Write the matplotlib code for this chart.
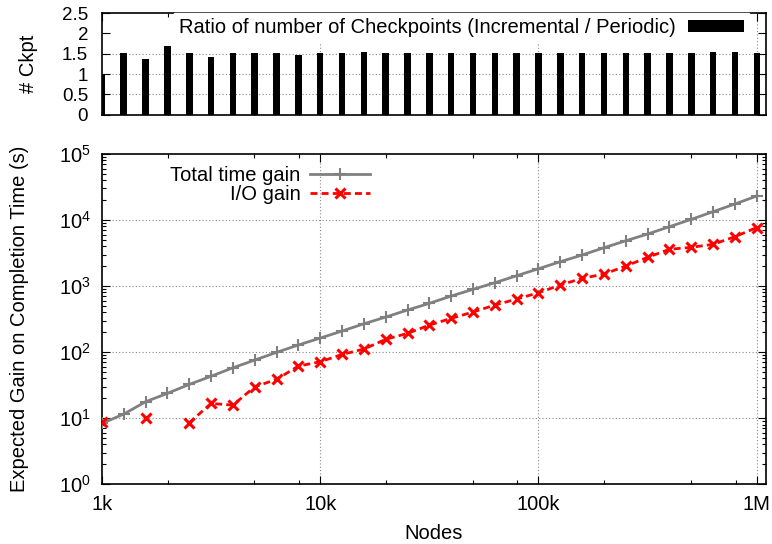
import numpy as np
import matplotlib
matplotlib.use("Agg")
from matplotlib import pyplot as plt
from matplotlib import ticker

plt.rcParams['font.family'] = ['Liberation Sans', 'DejaVu Sans']
plt.rcParams['mathtext.default'] = 'regular'

# node counts (x axis, log scale)
nodes = [1000, 1259, 1585, 1995, 2512, 3162, 3981, 5012, 6310, 7943,
         10000, 12589, 15849, 19953, 25119, 31623, 39811, 50119, 63096, 79433,
         100000, 125893, 158489, 199526, 251189, 316228, 398107, 501187, 630957, 794328,
         1000000]

# ratio of number of checkpoints (incremental / periodic)
ckpt_ratio = [1.0, 1.52, 1.36, 1.69, 1.52, 1.42, 1.52, 1.52, 1.52, 1.48,
              1.52, 1.52, 1.54, 1.52, 1.52, 1.52, 1.52, 1.52, 1.52, 1.52,
              1.52, 1.52, 1.52, 1.52, 1.52, 1.52, 1.52, 1.52, 1.55, 1.55,
              1.52]

total_gain = [8.3, 11.5, 17.7, 23.7, 32.4, 43, 57.8, 75.6, 99, 128,
              163, 208, 268, 339, 433, 547, 705, 891, 1122, 1432,
              1828, 2335, 2950, 3800, 4850, 6130, 7920, 10230, 13370, 17470,
              23100]

io_gain = [8.8, np.nan, 10.2, np.nan, 8.5, 16.7, 15.7, 29.8, 38.6, 61.4,
           71.3, 92, 111, 156, 192, 256, 324, 404, 515, 635,
           792, 1035, 1309, 1515, 2010, 2720, 3600, 3855, 4285, 5590,
           7690]

xticks = [1e3, 1e4, 1e5, 1e6]
xtick_labels = ['1k', '10k', '100k', '1M']

fig = plt.figure(figsize=(7.72, 5.44), dpi=100)
ax1 = fig.add_axes([0.132, 0.789, 0.860, 0.187])
ax2 = fig.add_axes([0.132, 0.110, 0.860, 0.607])

grid_kw = dict(color='#888888', linestyle=(0, (1, 2)), linewidth=0.8)


def style_xaxis(ax):
    ax.set_xscale('log')
    ax.set_xlim(1000, 1.1e6)
    ax.xaxis.set_major_locator(ticker.FixedLocator(xticks))
    ax.xaxis.set_minor_locator(ticker.LogLocator(base=10, subs=(2, 5, 8)))
    ax.xaxis.set_minor_formatter(ticker.NullFormatter())
    ax.tick_params(which='both', direction='in', top=True, right=True)
    ax.tick_params(which='major', length=6, width=0.8)
    ax.tick_params(which='minor', length=3, width=0.8)
    ax.tick_params(axis='x', labelsize=14.5, pad=8)
    for s in ax.spines.values():
        s.set_linewidth(1.2)


# ---- top: checkpoint ratio bars ----
nodes_arr = np.array(nodes)
half = 0.015
lefts = nodes_arr * 10 ** (-half)
widths = nodes_arr * (10 ** half - 10 ** (-half))
ax1.bar(lefts, ckpt_ratio, width=widths, align='edge', color='black',
        zorder=3, label='Ratio of number of Checkpoints (Incremental / Periodic)')
style_xaxis(ax1)
ax1.set_xticklabels([])
ax1.set_ylim(0, 2.5)
ax1.set_yticks([0, 0.5, 1, 1.5, 2, 2.5])
ax1.set_yticklabels(['0', '0.5', '1', '1.5', '2', '2.5'])
ax1.tick_params(axis='y', labelsize=13.5, pad=10)
for yv in [0.5, 1, 1.5]:
    ax1.axhline(yv, zorder=1, **grid_kw)
for xv in xticks[1:]:
    ax1.axvline(xv, zorder=1, **grid_kw)
ax1.set_ylabel('# Ckpt', fontsize=14.5)
ax1.yaxis.set_label_coords(-0.097, 0.5)
leg1 = ax1.legend(loc='upper right', fontsize=14.5, markerfirst=False,
                  frameon=True, fancybox=False, framealpha=1,
                  edgecolor='white', borderpad=0.25, borderaxespad=0,
                  handlelength=2.8, handleheight=0.5, handletextpad=0.6,
                  bbox_to_anchor=(0.975, 1.0))
leg1.set_zorder(5)

# ---- bottom: gains ----
ax2.plot(nodes, total_gain, color='#808080', linewidth=2, marker='+',
         markersize=8, markeredgewidth=1.5, label='Total time gain', zorder=3)
ax2.plot(nodes, io_gain, color='red', linewidth=2, linestyle=(0, (2.5, 1.5)),
         marker='x', markersize=6.5, markeredgewidth=2.2, label='I/O gain', zorder=3)
style_xaxis(ax2)
ax2.set_xticklabels(xtick_labels)
ax2.set_yscale('log')
ax2.set_ylim(1, 1e5)
ax2.yaxis.set_major_locator(ticker.LogLocator(base=10, numticks=10))
ax2.yaxis.set_major_formatter(ticker.LogFormatterMathtext())
ax2.yaxis.set_minor_locator(ticker.LogLocator(base=10, subs=np.arange(2, 10), numticks=20))
ax2.yaxis.set_minor_formatter(ticker.NullFormatter())
ax2.tick_params(axis='y', labelsize=14.5, pad=8)
for yv in [10, 100, 1000, 10000]:
    ax2.axhline(yv, zorder=1, **grid_kw)
for xv in xticks[1:]:
    ax2.axvline(xv, zorder=1, **grid_kw)
ax2.set_xlabel('Nodes', fontsize=14.5, labelpad=7)
ax2.set_ylabel('Expected Gain on Completion Time (s)', fontsize=14.5)
ax2.yaxis.set_label_coords(-0.11, 0.5)
ax2.legend(loc='upper left', fontsize=14.5, markerfirst=False, frameon=False,
           handlelength=3.0, handletextpad=0.45, labelspacing=0.0,
           borderaxespad=0.2, bbox_to_anchor=(0.085, 1.0))

fig.savefig('out.png', dpi=100)
